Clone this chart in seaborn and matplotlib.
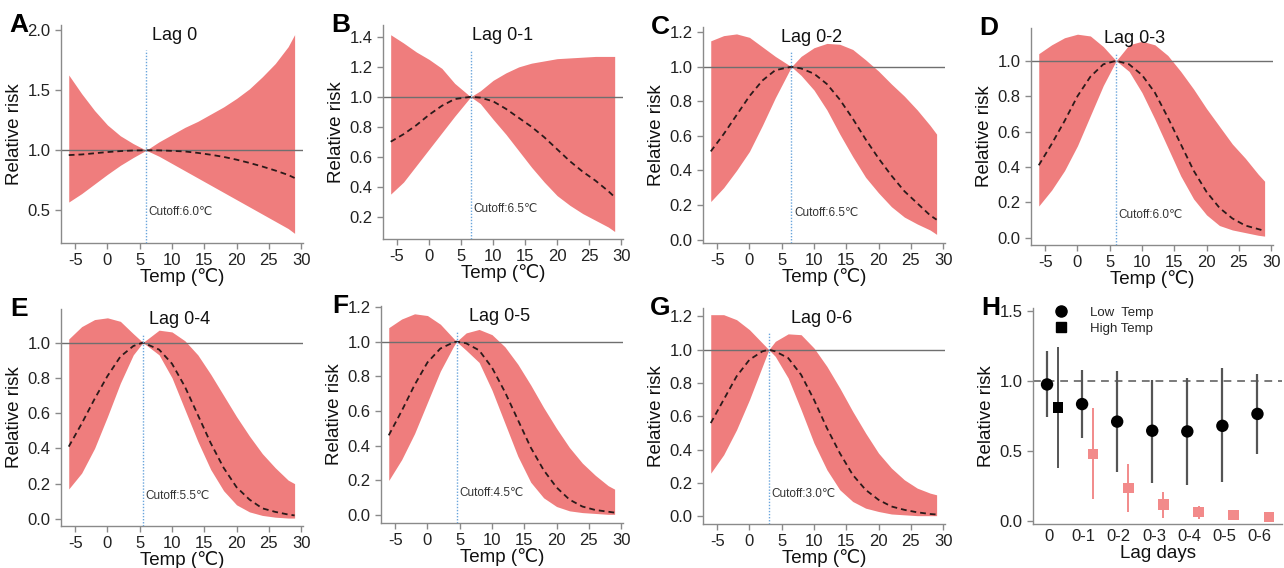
import matplotlib
matplotlib.use("Agg")
import matplotlib.pyplot as plt
from matplotlib.lines import Line2D
import seaborn as sns
import pandas as pd

# ---- data ----
panel_letters = ["A", "B", "C", "D", "E", "F", "G"]
panel_titles = ["Lag 0", "Lag 0-1", "Lag 0-2", "Lag 0-3", "Lag 0-4", "Lag 0-5", "Lag 0-6"]
cutoffs = [6.0, 6.5, 6.5, 6.0, 5.5, 4.5, 3.0]

temps_a = [-6, -4, -2, 0, 2, 4, 6, 8, 10, 12, 14, 16, 18, 20, 22, 24, 26, 28, 29]
rr_a = [0.96, 0.965, 0.975, 0.985, 0.993, 0.998, 1.0, 0.999, 0.995, 0.99, 0.978, 0.963, 0.945, 0.922, 0.895, 0.865, 0.832, 0.795, 0.77]
hi_a = [1.625, 1.47, 1.33, 1.21, 1.12, 1.055, 1.0, 1.07, 1.13, 1.19, 1.24, 1.30, 1.36, 1.43, 1.51, 1.61, 1.72, 1.86, 1.96]
lo_a = [0.57, 0.64, 0.72, 0.80, 0.875, 0.94, 1.0, 0.95, 0.89, 0.83, 0.77, 0.71, 0.65, 0.59, 0.53, 0.47, 0.41, 0.35, 0.31]

temps_b = [-6, -4, -2, 0, 2, 4, 6.5, 8, 10, 12, 14, 16, 18, 20, 22, 24, 26, 28, 29]
rr_b = [0.70, 0.75, 0.81, 0.88, 0.94, 0.985, 1.0, 0.995, 0.97, 0.92, 0.86, 0.80, 0.73, 0.65, 0.57, 0.50, 0.44, 0.37, 0.33]
hi_b = [1.415, 1.36, 1.30, 1.25, 1.19, 1.09, 1.0, 1.04, 1.11, 1.16, 1.20, 1.225, 1.24, 1.255, 1.26, 1.265, 1.27, 1.27, 1.27]
lo_b = [0.35, 0.43, 0.54, 0.65, 0.76, 0.87, 1.0, 0.955, 0.85, 0.75, 0.64, 0.53, 0.43, 0.34, 0.275, 0.22, 0.175, 0.13, 0.10]

temps_c = [-6, -4, -2, 0, 2, 4, 6.5, 8, 10, 12, 14, 16, 18, 20, 22, 24, 26, 28, 29]
rr_c = [0.51, 0.61, 0.72, 0.83, 0.92, 0.98, 1.0, 0.99, 0.96, 0.90, 0.81, 0.70, 0.58, 0.47, 0.37, 0.28, 0.21, 0.14, 0.115]
hi_c = [1.15, 1.18, 1.19, 1.17, 1.115, 1.06, 1.0, 1.06, 1.11, 1.135, 1.13, 1.10, 1.04, 0.975, 0.90, 0.83, 0.75, 0.66, 0.61]
lo_c = [0.22, 0.30, 0.40, 0.51, 0.66, 0.82, 1.0, 0.95, 0.865, 0.75, 0.61, 0.48, 0.36, 0.27, 0.19, 0.13, 0.09, 0.055, 0.03]

temps_d = [-6, -4, -2, 0, 2, 4, 6, 8, 10, 12, 14, 16, 18, 20, 22, 24, 26, 28, 29]
rr_d = [0.41, 0.53, 0.66, 0.80, 0.91, 0.98, 1.0, 0.98, 0.92, 0.82, 0.68, 0.53, 0.38, 0.26, 0.17, 0.11, 0.07, 0.05, 0.04]
hi_d = [1.04, 1.09, 1.13, 1.15, 1.14, 1.08, 1.0, 1.09, 1.11, 1.09, 1.03, 0.94, 0.84, 0.73, 0.63, 0.53, 0.45, 0.36, 0.32]
lo_d = [0.18, 0.27, 0.38, 0.52, 0.69, 0.86, 1.0, 0.94, 0.82, 0.67, 0.51, 0.35, 0.22, 0.13, 0.07, 0.045, 0.03, 0.015, 0.01]

temps_e = [-6, -4, -2, 0, 2, 4, 5.5, 8, 10, 12, 14, 16, 18, 20, 22, 24, 26, 28, 29]
rr_e = [0.41, 0.54, 0.68, 0.81, 0.92, 0.98, 1.0, 0.96, 0.88, 0.75, 0.59, 0.43, 0.29, 0.18, 0.11, 0.06, 0.04, 0.025, 0.02]
hi_e = [1.02, 1.09, 1.13, 1.14, 1.12, 1.05, 1.0, 1.07, 1.06, 1.01, 0.93, 0.82, 0.70, 0.58, 0.47, 0.37, 0.29, 0.22, 0.20]
lo_e = [0.17, 0.26, 0.40, 0.58, 0.77, 0.93, 1.0, 0.93, 0.80, 0.62, 0.44, 0.28, 0.16, 0.08, 0.04, 0.02, 0.01, 0.005, 0.005]

temps_f = [-6, -4, -2, 0, 2, 4, 4.5, 6, 8, 10, 12, 14, 16, 18, 20, 22, 24, 26, 28, 29]
rr_f = [0.46, 0.60, 0.75, 0.88, 0.96, 0.995, 1.0, 0.99, 0.95, 0.85, 0.71, 0.55, 0.39, 0.26, 0.16, 0.09, 0.05, 0.03, 0.02, 0.015]
hi_f = [1.08, 1.13, 1.16, 1.15, 1.10, 1.02, 1.0, 1.05, 1.07, 1.04, 0.97, 0.87, 0.75, 0.62, 0.50, 0.39, 0.30, 0.23, 0.17, 0.15]
lo_f = [0.20, 0.32, 0.47, 0.65, 0.83, 0.97, 1.0, 0.95, 0.88, 0.72, 0.53, 0.34, 0.19, 0.10, 0.05, 0.025, 0.015, 0.01, 0.005, 0.005]

temps_g = [-6, -4, -2, 0, 2, 3, 4, 6, 8, 10, 12, 14, 16, 18, 20, 22, 24, 26, 28, 29]
rr_g = [0.56, 0.70, 0.84, 0.94, 0.99, 1.0, 0.99, 0.95, 0.85, 0.70, 0.53, 0.38, 0.25, 0.16, 0.10, 0.06, 0.04, 0.025, 0.015, 0.012]
hi_g = [1.21, 1.21, 1.18, 1.12, 1.04, 1.0, 1.05, 1.095, 1.09, 1.01, 0.90, 0.77, 0.63, 0.50, 0.38, 0.29, 0.22, 0.17, 0.14, 0.13]
lo_g = [0.26, 0.37, 0.52, 0.70, 0.90, 1.0, 0.96, 0.83, 0.64, 0.44, 0.28, 0.16, 0.09, 0.05, 0.03, 0.015, 0.01, 0.005, 0.005, 0.005]

# panel H: cumulative relative risk by lag
lag_days = ["0", "0-1", "0-2", "0-3", "0-4", "0-5", "0-6"]
low_rr = [0.975, 0.835, 0.71, 0.645, 0.64, 0.68, 0.765]
low_lo = [0.74, 0.59, 0.35, 0.27, 0.255, 0.28, 0.48]
low_hi = [1.21, 1.08, 1.07, 1.01, 1.02, 1.09, 1.05]
high_rr = [0.81, 0.48, 0.235, 0.12, 0.065, 0.045, 0.03]
high_lo = [0.38, 0.16, 0.065, 0.02, 0.015, 0.02, 0.01]
high_hi = [1.24, 0.81, 0.41, 0.21, 0.11, 0.06, 0.04]

# ---- style ----
sns.set_theme(style="ticks")
plt.rcParams["font.family"] = ["Liberation Sans", "DejaVu Sans"]
plt.rcParams["axes.unicode_minus"] = False

FILL = "#EF7D7D"
PINK = "#F28A8A"
SPINE = "#8a8a8a"
W, H = 1284, 568

fig = plt.figure(figsize=(W / 100, H / 100), dpi=100)


def box(l, t, r, b):
    return [l / W, 1 - b / H, (r - l) / W, (b - t) / H]


def style_axes(ax):
    sns.despine(ax=ax)
    for s in ["left", "bottom"]:
        ax.spines[s].set_color(SPINE)
        ax.spines[s].set_linewidth(1.0)
    ax.tick_params(colors=SPINE, labelcolor="#222222", labelsize=12, length=4, width=1)


def letter(l, t, s):
    fig.text((l - 33) / W, 1 - (t - 12) / H, s, fontsize=19, fontweight="bold",
             va="top", ha="right", color="black")


# pixel boxes of each panel (left, top, right, bottom)
boxes = [(61, 25, 303, 243), (383, 25, 623, 239), (703, 27, 945, 243), (1031, 28, 1273, 245),
         (61, 309, 303, 526), (381, 306, 623, 523), (703, 308, 945, 524)]
ylims = [(0.23, 2.04), (0.05, 1.48), (-0.02, 1.23), (-0.04, 1.185),
         (-0.04, 1.19), (-0.045, 1.205), (-0.045, 1.25)]
yticks = [[0.5, 1.0, 1.5, 2.0], [0.2, 0.4, 0.6, 0.8, 1.0, 1.2, 1.4], [0, 0.2, 0.4, 0.6, 0.8, 1.0, 1.2],
          [0, 0.2, 0.4, 0.6, 0.8, 1.0], [0, 0.2, 0.4, 0.6, 0.8, 1.0],
          [0, 0.2, 0.4, 0.6, 0.8, 1.0, 1.2], [0, 0.2, 0.4, 0.6, 0.8, 1.0, 1.2]]
title_x = [0.47, 0.5, 0.45, 0.43, 0.49, 0.49, 0.49]

series = [(temps_a, rr_a, lo_a, hi_a), (temps_b, rr_b, lo_b, hi_b), (temps_c, rr_c, lo_c, hi_c),
          (temps_d, rr_d, lo_d, hi_d), (temps_e, rr_e, lo_e, hi_e), (temps_f, rr_f, lo_f, hi_f),
          (temps_g, rr_g, lo_g, hi_g)]

for i, (temps, rr, lo, hi) in enumerate(series):
    l, t, r, b = boxes[i]
    ax = fig.add_axes(box(l, t, r, b))
    ax.fill_between(temps, lo, hi, color=FILL, linewidth=0, zorder=1)
    ax.axhline(1.0, color="#6f6f6f", lw=1.0, zorder=2)
    sns.lineplot(x=temps, y=rr, ax=ax, color="#2b1a1a", lw=1.3, zorder=3)
    ax.lines[-1].set_dashes((3.2, 2.2))
    ax.axvline(cutoffs[i], ymin=0, ymax=0.885, color="#6aa5dc", lw=1.0, ls=(0, (1, 1.2)), zorder=4)
    ax.text(cutoffs[i] + 0.4, ylims[i][0] + 0.14 * (ylims[i][1] - ylims[i][0]),
            f"Cutoff:{cutoffs[i]:.1f}℃", fontsize=8.5, color="#333333", va="center")
    ax.text(title_x[i], 0.95, panel_titles[i], transform=ax.transAxes, ha="center", va="center",
            fontsize=13, color="#111111")
    ax.set_xlim(-7.2, 30.3)
    ax.set_ylim(*ylims[i])
    ax.set_xticks([-5, 0, 5, 10, 15, 20, 25, 30])
    ax.set_yticks(yticks[i])
    ax.set_yticklabels([f"{v:.1f}" for v in yticks[i]])
    ax.set_xlabel("Temp (℃)", fontsize=13.5, labelpad=0, color="#111111")
    ax.set_ylabel("Relative risk", fontsize=13.5, labelpad=3, color="#111111")
    style_axes(ax)
    letter(l, t, panel_letters[i])

# ---- panel H ----
axh = fig.add_axes(box(1033, 308, 1282, 524))
pos = list(range(len(lag_days)))
low_x = [p - 0.05 for p in pos]
high_x = [p + 0.27 for p in pos]
high_palette = {d: (PINK if k else "black") for k, d in enumerate(lag_days)}

axh.axhline(1.0, color="#7a7a7a", lw=1.4, ls=(0, (4, 3)), zorder=1)
axh.vlines(low_x, low_lo, low_hi, color="#555555", lw=1.6, zorder=2)
axh.vlines(high_x, high_lo, high_hi, colors=[high_palette[d] if k else "#555555" for k, d in enumerate(lag_days)],
           lw=1.4, zorder=2)
low_df = pd.DataFrame({"x": low_x, "rr": low_rr})
high_df = pd.DataFrame({"x": high_x, "rr": high_rr, "lag": lag_days})
sns.scatterplot(data=low_df, x="x", y="rr", ax=axh, color="black", marker="o", s=80,
                edgecolor="none", zorder=3)
sns.scatterplot(data=high_df, x="x", y="rr", hue="lag", palette=high_palette, ax=axh, marker="s",
                s=55, edgecolor="none", legend=False, zorder=3)
axh.set_xlim(-0.45, 6.65)
axh.set_ylim(-0.02, 1.52)
axh.set_xticks(pos)
axh.set_xticklabels(lag_days)
axh.set_yticks([0.0, 0.5, 1.0, 1.5])
axh.set_yticklabels(["0.0", "0.5", "1.0", "1.5"])
axh.set_xlabel("Lag days", fontsize=13.5, labelpad=1, color="#111111")
axh.set_ylabel("Relative risk", fontsize=13.5, labelpad=3, color="#111111")
style_axes(axh)
axh.tick_params(axis="x", length=0)
handles = [Line2D([], [], ls="", marker="o", color="black", markersize=8),
           Line2D([], [], ls="", marker="s", color="black", markersize=7)]
axh.legend(handles, ["Low  Temp", "High Temp"], loc="upper left", bbox_to_anchor=(0.04, 1.03),
           frameon=False, fontsize=9.5, handletextpad=1.2, labelspacing=0.25, borderaxespad=0)
letter(1033, 308, "H")

fig.savefig("out.png", dpi=100)
